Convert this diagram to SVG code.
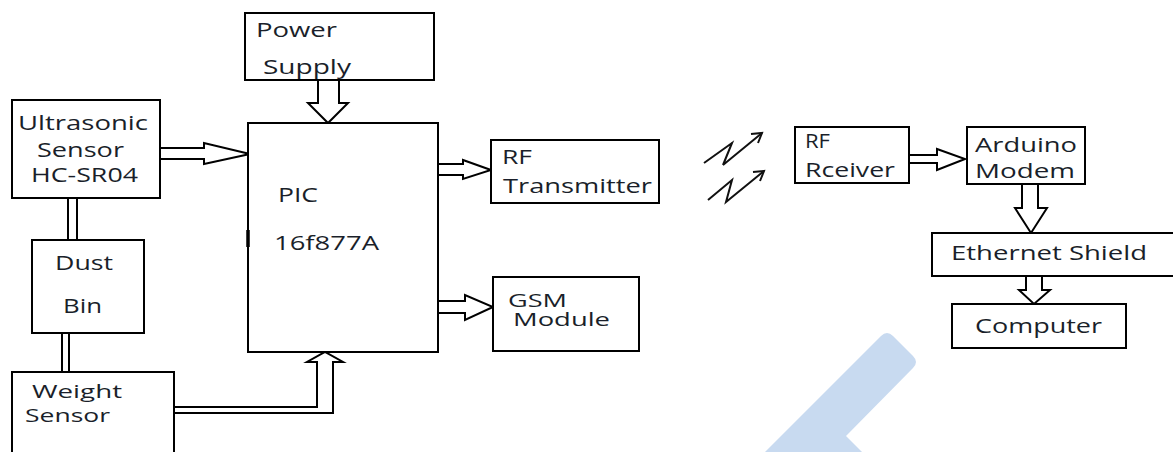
<svg xmlns="http://www.w3.org/2000/svg" width="1173" height="452" viewBox="0 0 1173 452">
<style>
.box{fill:#fff;stroke:#000;stroke-width:2}
.arr{fill:#fff;stroke:#000;stroke-width:2;stroke-linejoin:miter}
.ln{fill:none;stroke:#000;stroke-width:2}
.zz{fill:none;stroke:#111;stroke-width:2;stroke-linejoin:miter}
text{font-family:"Open Sans","Liberation Sans",sans-serif;font-size:20px;fill:#1a1f2a}
.sm{font-size:18px}
</style>
<rect width="1173" height="452" fill="#fff"/>
<path d="M765,452 L881,336 Q887,330 893,336 L913,356 Q919,362 913,368 L846,436 L862,452 Z" fill="#c8daf0"/>
<g id="connectors">
<path class="arr" d="M160,148 H204 V143 L250,154 L204,164 V159 H160"/>
<path class="arr" d="M318,80 V103 H308 L328,123 L348,103 H339 V80"/>
<path class="arr" d="M438,164 H463 V160 L491,170 L463,179 V175 H438"/>
<path class="arr" d="M438,301 H465 V295 L493,307 L465,320 V313 H438"/>
<path class="arr" d="M174,407 H317 V362 H307 L325,352 L343,362 H333 V413 H174"/>
<line class="ln" x1="68" y1="198" x2="68" y2="240"/>
<line class="ln" x1="77" y1="198" x2="77" y2="240"/>
<line class="ln" x1="62" y1="333" x2="62" y2="372"/>
<line class="ln" x1="69" y1="333" x2="69" y2="372"/>
<path class="arr" d="M909,155 H937 V149 L965,159 L937,170 V163 H909"/>
<path class="arr" d="M1022,184 V208 H1015 L1031,233 L1047,208 H1038 V184"/>
<path class="arr" d="M1026,276 V290 H1019 L1034,304 L1050,290 H1042 V276"/>
<polyline class="zz" points="704,163 732,143 723,165 762,133"/>
<polyline class="zz" points="751,134 762,133 758,143"/>
<polyline class="zz" points="708,200 732,180 726,202 764,171"/>
<polyline class="zz" points="753,172 764,171 760,181"/>
</g>
<g id="power-supply">
<rect class="box" x="245" y="13" width="189" height="67"/>
<text x="256" y="37" textLength="81" lengthAdjust="spacingAndGlyphs">Power</text>
<text x="263" y="74" textLength="88" lengthAdjust="spacingAndGlyphs">Supply</text>
</g>
<g id="ultrasonic-sensor">
<rect class="box" x="12" y="100" width="148" height="98"/>
<text x="18" y="130" textLength="130" lengthAdjust="spacingAndGlyphs">Ultrasonic</text>
<text x="37" y="157" textLength="87" lengthAdjust="spacingAndGlyphs">Sensor</text>
<text x="31" y="182" textLength="107" lengthAdjust="spacingAndGlyphs">HC-SR04</text>
</g>
<g id="pic">
<rect class="box" x="248" y="123" width="190" height="229"/>
<line x1="248" y1="230" x2="248" y2="247" stroke="#000" stroke-width="3.5"/>
<text x="278" y="202" textLength="40" lengthAdjust="spacingAndGlyphs">PIC</text>
<text x="274" y="250" textLength="105" lengthAdjust="spacingAndGlyphs">16f877A</text>
</g>
<g id="dust-bin">
<rect class="box" x="32" y="240" width="112" height="93"/>
<text x="55" y="270" textLength="58" lengthAdjust="spacingAndGlyphs">Dust</text>
<text x="63" y="313" textLength="39" lengthAdjust="spacingAndGlyphs">Bin</text>
</g>
<g id="weight-sensor">
<rect class="box" x="12" y="372" width="162" height="90"/>
<text class="sm" x="32" y="398" textLength="90" lengthAdjust="spacingAndGlyphs">Weight</text>
<text class="sm" x="25" y="422" textLength="85" lengthAdjust="spacingAndGlyphs">Sensor</text>
</g>
<g id="rf-transmitter">
<rect class="box" x="491" y="140" width="168" height="63"/>
<text x="502" y="164" textLength="30" lengthAdjust="spacingAndGlyphs">RF</text>
<text x="503" y="193" textLength="149" lengthAdjust="spacingAndGlyphs">Transmitter</text>
</g>
<g id="gsm-module">
<rect class="box" x="493" y="277" width="146" height="74"/>
<text class="sm" x="508" y="307" textLength="59" lengthAdjust="spacingAndGlyphs">GSM</text>
<text class="sm" x="513" y="326" textLength="97" lengthAdjust="spacingAndGlyphs">Module</text>
</g>
<g id="rf-receiver">
<rect class="box" x="795" y="127" width="114" height="56"/>
<text x="805" y="148" textLength="25" lengthAdjust="spacingAndGlyphs">RF</text>
<text x="805" y="177" textLength="90" lengthAdjust="spacingAndGlyphs">Rceiver</text>
</g>
<g id="arduino-modem">
<rect class="box" x="967" y="127" width="118" height="57"/>
<text x="975" y="152" textLength="102" lengthAdjust="spacingAndGlyphs">Arduino</text>
<text x="975" y="178" textLength="100" lengthAdjust="spacingAndGlyphs">Modem</text>
</g>
<g id="ethernet-shield">
<rect class="box" x="932" y="233" width="250" height="43"/>
<text x="951" y="260" textLength="196" lengthAdjust="spacingAndGlyphs">Ethernet Shield</text>
</g>
<g id="computer">
<rect class="box" x="952" y="304" width="174" height="44"/>
<text x="975" y="333" textLength="127" lengthAdjust="spacingAndGlyphs">Computer</text>
</g>
</svg>
